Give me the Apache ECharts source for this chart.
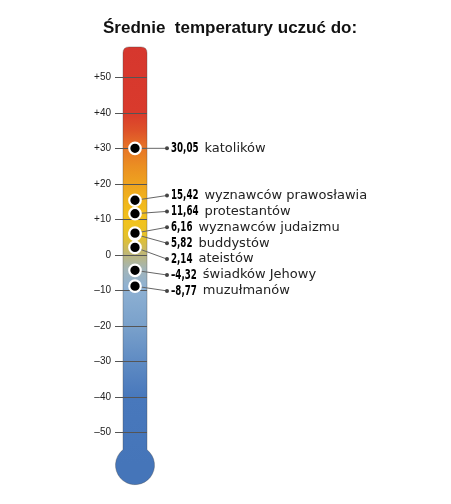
<!DOCTYPE html>
<html>
<head>
<meta charset="utf-8">
<script src="https://cdn.jsdelivr.net/npm/echarts@6/dist/echarts.min.js"></script>
<style>
html,body{margin:0;padding:0;background:#ffffff;}
#chart{width:451px;height:504px;}
</style>
</head>
<body>
<div id="chart"></div>
<script>
// ---- data ----
const TITLE = 'Średnie  temperatury uczuć do:';
const CATEGORIES = ['katolików', 'wyznawców prawosławia', 'protestantów', 'wyznawców judaizmu',
                    'buddystów', 'ateistów', 'świadków Jehowy', 'muzułmanów'];
const VALUES = [30.05, 15.42, 11.64, 6.16, 5.82, 2.14, -4.32, -8.77];
const AXIS_MIN = -50;
const AXIS_MAX = 50;
const AXIS_STEP = 10;
// thermometer colour along the temperature scale: [temperature, colour]
const SCALE_COLORS = [
  [58.6, '#d6372e'], [40, '#d93a2c'], [35, '#de5229'], [30, '#e77627'], [25, '#eb8f22'],
  [20, '#eea31f'], [14, '#f1b91b'], [9, '#f1c31e'], [5, '#e4c12c'], [2, '#cebb58'],
  [0, '#bcb67c'], [-4, '#a3b5b8'], [-9, '#8eb1d3'], [-20, '#7aa1cb'], [-30, '#5f8bc3'],
  [-40, '#4878bc'], [-59, '#4575b9']
];

// ---- layout constants ----
const TUBE_TOP = 58.6;       // temperature at tube top
const BULB_CENTER = -59.2;   // temperature at bulb centre
const BULB_R = 19.5;
const LEADER_LEN = 32;
const LABEL_GAP = 15.9;
const NUM_FONT = "bold 14px 'DejaVu Sans'";
const NUM_SCALE = 0.62;

const measureCtx = document.createElement('canvas').getContext('2d');
function textWidth(str, font) { measureCtx.font = font; return measureCtx.measureText(str).width; }

function tickLabel(v) {
  if (v > 0) return '+' + v;
  if (v < 0) return '\u2013' + Math.abs(v);
  return '0';
}
function numLabel(v) {
  return (v < 0 ? '\u2013' : '') + Math.abs(v).toFixed(2).replace('.', ',');
}

function spread(ys, gap) {
  const order = ys.map((y, i) => i).sort((a, b) => ys[a] - ys[b]);
  let clusters = order.map(i => ({ idx: [i], lo: ys[i], hi: ys[i] }));
  const top = c => (c.lo + c.hi) / 2 - (c.idx.length - 1) * gap / 2;
  let merged = true;
  while (merged) {
    merged = false;
    for (let k = 1; k < clusters.length; k++) {
      const a = clusters[k - 1], b = clusters[k];
      const aBottom = top(a) + (a.idx.length - 1) * gap;
      if (top(b) - aBottom < gap) {
        clusters.splice(k - 1, 2, { idx: a.idx.concat(b.idx), lo: Math.min(a.lo, b.lo), hi: Math.max(a.hi, b.hi) });
        merged = true;
        break;
      }
    }
  }
  const out = [];
  clusters.forEach(c => { const t = top(c); c.idx.forEach((i, j) => { out[i] = t + j * gap; }); });
  return out;
}

function renderTube(params, api) {
  const cs = params.coordSys;
  const L = cs.x, R = cs.x + cs.width, w = cs.width, cx = L + w / 2;
  const T = api.coord([0, TUBE_TOP])[1];
  const cy = api.coord([0, BULB_CENTER])[1];
  const r = 6;
  const dy = Math.sqrt(BULB_R * BULB_R - (w / 2) * (w / 2));
  const d = `M${L},${cy - dy} L${L},${T + r} Q${L},${T} ${L + r},${T} L${R - r},${T} Q${R},${T} ${R},${T + r} L${R},${cy - dy} A${BULB_R},${BULB_R} 0 1 1 ${L},${cy - dy} Z`;
  const yTop = T, yBot = cy + BULB_R;
  const stops = SCALE_COLORS.map(([v, c]) => ({
    offset: Math.min(1, Math.max(0, (api.coord([0, v])[1] - yTop) / (yBot - yTop))), color: c
  }));
  return {
    type: 'path',
    shape: { pathData: d, x: cx - BULB_R, y: yTop, width: BULB_R * 2, height: yBot - yTop, layout: 'cover' },
    style: {
      fill: { type: 'linear', x: 0, y: yTop, x2: 0, y2: yBot, global: true, colorStops: stops },
      stroke: 'rgba(70,70,70,0.35)', lineWidth: 1
    }
  };
}

function renderLabel(params, api) {
  const i = params.dataIndex;
  const ys = VALUES.map(v => api.coord([0, v])[1]);
  const placed = spread(ys, LABEL_GAP);
  const p = api.coord([0, VALUES[i]]);
  const ex = p[0] + LEADER_LEN, ly = placed[i];
  const num = numLabel(VALUES[i]);
  const nx = ex + 4;
  const nw = textWidth(num, NUM_FONT) * NUM_SCALE;
  return {
    type: 'group',
    children: [
      { type: 'line', shape: { x1: p[0], y1: p[1], x2: ex, y2: ly }, style: { stroke: '#666', lineWidth: 1 } },
      { type: 'circle', shape: { cx: ex, cy: ly, r: 2 }, style: { fill: '#444' } },
      {
        type: 'text', x: nx, y: ly, scaleX: NUM_SCALE, scaleY: 1,
        style: {
          text: num, align: 'left', verticalAlign: 'middle',
          font: NUM_FONT, fill: '#000'
        }
      },
      {
        type: 'text', x: nx + nw + 6, y: ly,
        style: {
          text: CATEGORIES[i], align: 'left', verticalAlign: 'middle',
          fontFamily: "'DejaVu Sans',sans-serif", fontSize: 13, fill: '#222'
        }
      }
    ]
  };
}

const chart = echarts.init(document.getElementById('chart'), null, { renderer: 'canvas' });
chart.setOption({
  animation: false,
  backgroundColor: '#ffffff',
  title: {
    text: TITLE, left: 103, top: 19.5, padding: 0,
    textStyle: { fontFamily: "'Liberation Sans',Arial,sans-serif", fontWeight: 'bold', fontSize: 17, color: '#111' }
  },
  grid: { left: 123, width: 24, top: 77.5, height: 355 },
  xAxis: { type: 'category', data: ['t'], show: false },
  yAxis: {
    type: 'value', min: AXIS_MIN, max: AXIS_MAX, interval: AXIS_STEP, z: 3,
    axisLine: { show: false },
    axisTick: { show: true, length: 8, lineStyle: { color: '#555', width: 1 } },
    splitLine: { show: true, lineStyle: { color: '#555', width: 1 } },
    axisLabel: { margin: 12, fontSize: 10, color: '#222', fontFamily: "'Liberation Sans',Arial,sans-serif", formatter: tickLabel }
  },
  series: [
    { type: 'custom', z: 1, silent: true, data: [[0, 0]], renderItem: renderTube },
    { type: 'custom', z: 4, silent: true, data: VALUES.map(v => [0, v]), renderItem: renderLabel },
    {
      type: 'scatter', z: 5, silent: true,
      data: VALUES.map(v => [0, v]).reverse(),
      symbol: 'circle', symbolSize: 11.5,
      itemStyle: { color: '#000', borderColor: '#fff', borderWidth: 2.2, opacity: 1 }
    }
  ]
});
</script>
</body>
</html>
